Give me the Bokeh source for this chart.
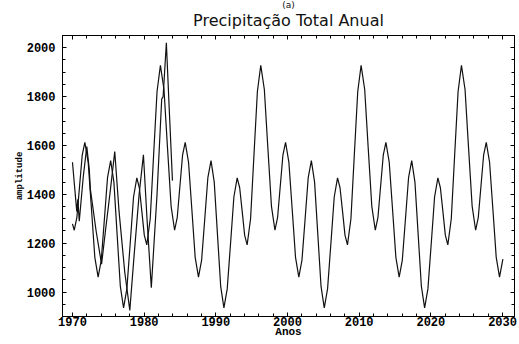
from bokeh.plotting import figure
from bokeh.models import (Range1d, LinearAxis, SingleIntervalTicker, Title,
                          CustomLabelingPolicy)
from bokeh.embed import file_html
from bokeh.resources import INLINE

# Fitted periodic model
model_years = [
    1970.00, 1970.25, 1970.62, 1970.99, 1971.36, 1971.73, 1972.19, 1972.66, 1973.12, 1973.58,
    1974.02, 1974.46, 1974.89, 1975.33, 1975.78, 1976.23, 1976.68, 1977.13, 1977.59, 1978.06,
    1978.52, 1978.98, 1979.33, 1979.68, 1980.02, 1980.37, 1980.85, 1981.32, 1981.80,
    1982.27, 1982.77, 1983.26, 1983.76, 1984.25, 1984.62, 1984.99, 1985.36, 1985.73, 1986.19,
    1986.66, 1987.12, 1987.58, 1988.02, 1988.46, 1988.89, 1989.33, 1989.78, 1990.23, 1990.68,
    1991.13, 1991.59, 1992.06, 1992.52, 1992.98, 1993.33, 1993.68, 1994.02, 1994.37, 1994.85,
    1995.32, 1995.80,
    1996.27, 1996.77, 1997.26, 1997.76, 1998.25, 1998.62, 1998.99, 1999.36, 1999.73, 2000.19,
    2000.66, 2001.12, 2001.58, 2002.02, 2002.46, 2002.89, 2003.33, 2003.78, 2004.23, 2004.68,
    2005.13, 2005.59, 2006.06, 2006.52, 2006.98, 2007.33, 2007.68, 2008.02, 2008.37, 2008.85,
    2009.32, 2009.80,
    2010.27, 2010.77, 2011.26, 2011.76, 2012.25, 2012.62, 2012.99, 2013.36, 2013.73, 2014.19,
    2014.66, 2015.12, 2015.58, 2016.02, 2016.46, 2016.89, 2017.33, 2017.78, 2018.23, 2018.68,
    2019.13, 2019.59, 2020.06, 2020.52, 2020.98, 2021.33, 2021.68, 2022.02, 2022.37, 2022.85,
    2023.32, 2023.80,
    2024.27, 2024.77, 2025.26, 2025.76, 2026.25, 2026.62, 2026.99, 2027.36, 2027.73, 2028.19,
    2028.66, 2029.12, 2029.58, 2030.05,
]
model_values = [
    1279, 1253, 1306, 1433, 1560, 1613, 1532, 1337, 1142, 1061,
    1131, 1300, 1468, 1538, 1450, 1236, 1023, 935, 1013, 1201,
    1389, 1467, 1427, 1330, 1233, 1193, 1300, 1560, 1821,
    1928, 1829, 1590, 1352, 1253, 1306, 1433, 1560, 1613, 1532,
    1337, 1142, 1061, 1131, 1300, 1468, 1538, 1450, 1236, 1023,
    935, 1013, 1201, 1389, 1467, 1427, 1330, 1233, 1193, 1300,
    1560, 1821,
    1928, 1829, 1590, 1352, 1253, 1306, 1433, 1560, 1613, 1532,
    1337, 1142, 1061, 1131, 1300, 1468, 1538, 1450, 1236, 1023,
    935, 1013, 1201, 1389, 1467, 1427, 1330, 1233, 1193, 1300,
    1560, 1821,
    1928, 1829, 1590, 1352, 1253, 1306, 1433, 1560, 1613, 1532,
    1337, 1142, 1061, 1131, 1300, 1468, 1538, 1450, 1236, 1023,
    935, 1013, 1201, 1389, 1467, 1427, 1330, 1233, 1193, 1300,
    1560, 1821,
    1928, 1829, 1590, 1352, 1253, 1306, 1433, 1560, 1613, 1532,
    1337, 1142, 1061, 1135,
]

obs_years = [1970.0, 1970.6, 1970.75, 1970.95, 1971.5, 1972.0, 1972.35, 1972.5, 1973.3,
             1974.06, 1974.6, 1975.3, 1975.9, 1976.5, 1977.3, 1978.0, 1978.6, 1979.3,
             1979.9, 1980.4, 1981.0, 1981.8, 1982.45, 1982.65, 1983.1, 1983.5, 1983.95]
obs_values = [1531, 1330, 1380, 1290, 1470, 1595, 1500, 1420, 1250,
              1114, 1250, 1420, 1575, 1330, 1080, 925, 1150, 1400,
              1562, 1300, 1018, 1400, 1790, 1800, 2020, 1750, 1456]

panel_tag = "(a)"
title_text = "Precipitação Total Anual"
x_label = "Anos"
y_label = "amplitude"

MONO = "Liberation Mono"
SANS = "DejaVu Sans"

p = figure(width=519, height=344, output_backend="svg", toolbar_location=None,
           title=None,
           x_range=Range1d(1968.61, 2031.67), y_range=Range1d(900, 2050),
           min_border_left=62, min_border_top=35, min_border_right=0, min_border_bottom=28,
           x_axis_label=x_label, y_axis_label=y_label)

p.grid.visible = False
p.outline_line_color = "black"
p.outline_line_width = 1
p.background_fill_color = "white"
p.border_fill_color = "white"

p.line(obs_years, obs_values, line_color="#111111", line_width=1.2)
p.line(model_years, model_values, line_color="#111111", line_width=1.2)

no_labels = CustomLabelingPolicy(code="""
    for (const i of Array.from(indices)) indices.unset(i)
    return indices
""")


def style_axis(ax, ticker, labels=True):
    ax.ticker = ticker
    ax.axis_line_color = "black"
    ax.major_tick_in = 4
    ax.major_tick_out = 0
    ax.minor_tick_in = 3
    ax.minor_tick_out = 0
    ax.major_tick_line_color = "black"
    ax.minor_tick_line_color = "black"
    if labels:
        ax.major_label_text_font = MONO
        ax.major_label_text_font_style = "bold"
        ax.major_label_text_font_size = "12px"
        ax.major_label_text_color = "black"
        ax.axis_label_text_font = MONO
        ax.axis_label_text_font_style = "bold"
        ax.axis_label_text_color = "black"
    else:
        ax.major_label_policy = no_labels
        ax.major_label_text_font_size = "1px"
        ax.major_label_standoff = 0


style_axis(p.xaxis[0], SingleIntervalTicker(interval=10, num_minor_ticks=5))
p.xaxis[0].major_label_standoff = 0
p.xaxis[0].axis_label_standoff = -3
p.xaxis[0].axis_label_text_font_size = "11px"

style_axis(p.yaxis[0], SingleIntervalTicker(interval=200, num_minor_ticks=4))
p.yaxis[0].major_label_standoff = 7
p.yaxis[0].axis_label_standoff = -1
p.yaxis[0].axis_label_text_font_size = "9px"

top_ax = LinearAxis()
style_axis(top_ax, SingleIntervalTicker(interval=10, num_minor_ticks=5), labels=False)
p.add_layout(top_ax, "above")
right_ax = LinearAxis()
style_axis(right_ax, SingleIntervalTicker(interval=200, num_minor_ticks=4), labels=False)
p.add_layout(right_ax, "right")

main_title = Title(text=title_text, align="center", text_font=SANS,
                   text_font_style="normal", text_font_size="16px",
                   text_color="#111111", standoff=4)
p.add_layout(main_title, "above")

tag_title = Title(text=panel_tag, align="center", offset=-21, text_font=SANS,
                  text_font_style="normal", text_font_size="9px",
                  text_color="#111111", standoff=-6)
p.add_layout(tag_title, "above")

open("out.html", "w").write(file_html(p, INLINE))
